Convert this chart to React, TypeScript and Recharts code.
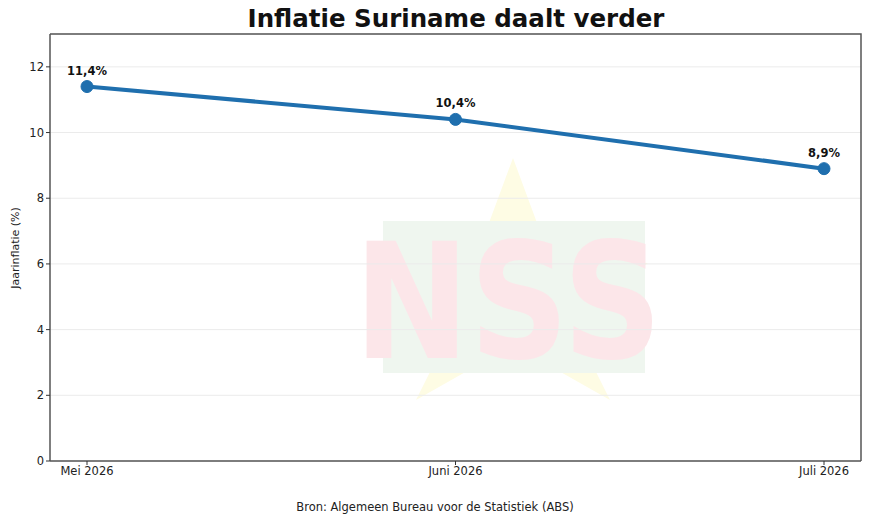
import { LineChart, Line, XAxis, YAxis, CartesianGrid, LabelList } from 'recharts'

const months = ['Mei 2026', 'Juni 2026', 'Juli 2026']
const inflation = [11.4, 10.4, 8.9]
const yTicks = [0, 2, 4, 6, 8, 10, 12]

const data = months.map((month, i) => ({ month, value: inflation[i] }))

const W = 862
const H = 515
const M = { top: 26, right: 9, left: 0, bottom: 32 }
const Y_W = 42
const X_H = 30
const FONT = '"DejaVu Sans", Verdana, sans-serif'

const fmt = (v: number) => `${v.toFixed(1).replace('.', ',')}%`

// faint NSS logo behind the plot
const Watermark = () => (
  <g>
    <polygon
      points="505,150 542,250 640,255 562,312 602,392 505,337 408,392 448,312 370,255 468,250"
      fill="#fefce4"
    />
    <rect x={375} y={213} width={262} height={152} fill="#eff6ef" />
    <text
      x={346}
      y={350}
      fontSize={160}
      fontWeight="bold"
      fontFamily={FONT}
      fill="#fce6e9"
      textLength={308}
      lengthAdjust="spacingAndGlyphs"
    >
      NSS
    </text>
  </g>
)

export default function App() {
  const plotL = M.left + Y_W
  const plotT = M.top
  const plotR = W - M.right
  const plotB = H - M.bottom - X_H
  return (
    <div style={{ position: 'relative', width: W, height: H }}>
      <svg width={W} height={H} style={{ position: 'absolute', left: 0, top: 0 }}>
        <Watermark />
        <text
          x={8}
          y={240}
          transform="rotate(-90 8 240)"
          textAnchor="middle"
          dominantBaseline="middle"
          fontSize={11}
          fontFamily={FONT}
          fill="#222"
        >
          Jaarinflatie (%)
        </text>
        <text
          x={427}
          y={499}
          textAnchor="middle"
          dominantBaseline="middle"
          fontSize={11.5}
          fontFamily={FONT}
          fill="#222"
        >
          Bron: Algemeen Bureau voor de Statistiek (ABS)
        </text>
      </svg>
      <div style={{ position: 'absolute', left: 0, top: 0 }}>
        <LineChart width={W} height={H} data={data} margin={M}>
          <CartesianGrid vertical={false} stroke="#ebebeb" strokeWidth={1} />
          <XAxis
            dataKey="month"
            padding={{ left: 37, right: 37 }}
            height={X_H}
            tick={{ fontSize: 11.5, fill: '#222', fontFamily: FONT }}
            tickSize={4}
            tickLine={{ stroke: '#333' }}
            axisLine={{ stroke: '#555', strokeWidth: 1.5 }}
            interval={0}
          />
          <YAxis
            domain={[0, 13]}
            ticks={yTicks}
            width={Y_W}
            tick={{ fontSize: 11.5, fill: '#222', fontFamily: FONT }}
            tickSize={4}
            tickLine={{ stroke: '#333' }}
            axisLine={{ stroke: '#555', strokeWidth: 1.5 }}
          />
          <Line
            type="linear"
            dataKey="value"
            stroke="#1f6fae"
            strokeWidth={4}
            dot={{ r: 6, fill: '#1f6fae', stroke: '#1f6fae', strokeWidth: 1 }}
            isAnimationActive={false}
          >
            <LabelList
              dataKey="value"
              position="top"
              offset={12}
              formatter={(v: number) => fmt(v)}
              style={{ fontSize: 11.5, fontWeight: 'bold', fill: '#111', fontFamily: FONT }}
            />
          </Line>
        </LineChart>
      </div>
      <svg width={W} height={H} style={{ position: 'absolute', left: 0, top: 0, pointerEvents: 'none' }}>
        <text
          x={448}
          y={19}
          textAnchor="middle"
          fontSize={24.5}
          fontWeight="bold"
          fontFamily={FONT}
          fill="#111"
        >
          Inflatie Suriname daalt verder
        </text>
        <path
          d={`M${plotL},${plotT} H${plotR} V${plotB}`}
          fill="none"
          stroke="#555"
          strokeWidth={1.5}
        />
      </svg>
    </div>
  )
}
